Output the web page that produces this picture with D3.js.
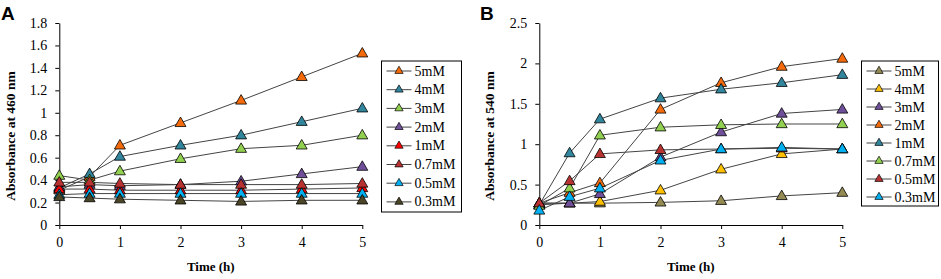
<!DOCTYPE html>
<html>
<head>
<meta charset="utf-8">
<script src="https://cdn.jsdelivr.net/npm/d3@7"></script>
<style>
  body { margin: 0; background: #fff; }
  svg { display: block; }
  .tick text { font-family: "Liberation Serif", "Times New Roman", serif; font-size: 14px; fill: #000; }
  .axis path, .axis line { stroke: #000; stroke-width: 1; }
</style>
</head>
<body>
<div id="chart"></div>
<script>
// shared x values (hours)
var timeH = [0, 0.5, 1, 2, 3, 4, 5];
var xTicks = [0, 1, 2, 3, 4, 5];

// panel A - absorbance at 460 nm
var namesA = ["5mM", "4mM", "3mM", "2mM", "1mM", "0.7mM", "0.5mM", "0.3mM"];
var colorsA = ["#f56a0a", "#31859c", "#92d050", "#6f4f99", "#ff0000", "#b83232", "#00b0f0", "#4a4526"];
var valuesA = [
  [0.31, 0.43, 0.71, 0.91, 1.11, 1.32, 1.53],
  [0.33, 0.455, 0.61, 0.71, 0.80, 0.92, 1.04],
  [0.44, 0.40, 0.48, 0.59, 0.68, 0.71, 0.80],
  [0.34, 0.36, 0.35, 0.36, 0.39, 0.455, 0.52],
  [0.32, 0.32, 0.31, 0.31, 0.31, 0.32, 0.33],
  [0.38, 0.38, 0.37, 0.36, 0.36, 0.36, 0.37],
  [0.27, 0.28, 0.28, 0.28, 0.28, 0.28, 0.28],
  [0.25, 0.24, 0.23, 0.22, 0.21, 0.22, 0.22]
];
var yTicksA = [0, 0.2, 0.4, 0.6, 0.8, 1, 1.2, 1.4, 1.6, 1.8];

// panel B - absorbance at 540 nm
var namesB = ["5mM", "4mM", "3mM", "2mM", "1mM", "0.7mM", "0.5mM", "0.3mM"];
var colorsB = ["#948a54", "#ffc000", "#6f4f99", "#f56a0a", "#31859c", "#92d050", "#b83232", "#00b0f0"];
var valuesB = [
  [0.27, 0.27, 0.27, 0.28, 0.30, 0.36, 0.40],
  [0.27, 0.27, 0.29, 0.43, 0.69, 0.88, 0.94],
  [0.25, 0.27, 0.385, 0.84, 1.15, 1.38, 1.43],
  [0.27, 0.40, 0.52, 1.43, 1.76, 1.96, 2.06],
  [0.25, 0.89, 1.31, 1.57, 1.68, 1.76, 1.86],
  [0.24, 0.455, 1.11, 1.21, 1.24, 1.25, 1.25],
  [0.27, 0.545, 0.88, 0.93, 0.94, 0.95, 0.94],
  [0.18, 0.35, 0.455, 0.80, 0.94, 0.96, 0.94]
];
var yTicksB = [0, 0.5, 1, 1.5, 2, 2.5];

var svg = d3.select("#chart")
  .append("svg")
  .attr("width", 941)
  .attr("height", 279);

var tri = d3.symbol().type(d3.symbolTriangle);

function drawPanel(p) {
  var g = svg.append("g").attr("transform", "translate(" + p.left + ",0)");

  var x = d3.scaleLinear().domain([0, 5]).range([0, p.w]);
  var y = d3.scaleLinear().domain([0, p.ymax]).range([225, 23]);

  g.append("g")
    .attr("class", "axis")
    .call(d3.axisLeft(y).tickValues(p.yTicks).tickSize(4).tickPadding(8).tickSizeOuter(0)
      .tickFormat(function(d) { return String(d); }));

  g.append("g")
    .attr("class", "axis")
    .attr("transform", "translate(0,225)")
    .call(d3.axisBottom(x).tickValues(xTicks).tickSize(4).tickPadding(8).tickSizeOuter(0)
      .tickFormat(function(d) { return String(d); }));

  var line = d3.line()
    .x(function(d, i) { return x(timeH[i]); })
    .y(function(d) { return y(d); });

  p.values.forEach(function(vals, k) {
    g.append("path")
      .datum(vals)
      .attr("fill", "none")
      .attr("stroke", "#444")
      .attr("stroke-width", 1)
      .attr("d", line);
  });

  p.values.forEach(function(vals, k) {
    g.selectAll(".m" + k)
      .data(vals)
      .enter()
      .append("path")
      .attr("d", tri.size(52)())
      .attr("transform", function(d, i) { return "translate(" + x(timeH[i]) + "," + (y(d) + 0.5) + ")"; })
      .attr("fill", p.colors[k])
      .attr("stroke", "#000")
      .attr("stroke-width", 0.8);
  });

  // axis titles
  g.append("text")
    .attr("transform", "translate(" + p.ytitleX + ",136) rotate(-90)")
    .attr("text-anchor", "middle")
    .attr("font-family", "Liberation Serif, serif")
    .attr("font-weight", "bold")
    .attr("font-size", 13.5)
    .text(p.ytitle);

  g.append("text")
    .attr("x", p.w / 2)
    .attr("y", 271)
    .attr("text-anchor", "middle")
    .attr("font-family", "Liberation Serif, serif")
    .attr("font-weight", "bold")
    .attr("font-size", 13)
    .text("Time (h)");

  // panel letter
  svg.append("text")
    .attr("x", p.letterX)
    .attr("y", 20)
    .attr("font-family", "Liberation Sans, Arial, sans-serif")
    .attr("font-weight", "bold")
    .attr("font-size", 19)
    .text(p.letter);

  // legend
  var lg = svg.append("g").attr("transform", "translate(" + p.legX + ",61)");
  lg.append("rect")
    .attr("width", p.legW)
    .attr("height", p.legH)
    .attr("fill", "#fff")
    .attr("stroke", "#000")
    .attr("stroke-width", 1);

  var item = lg.selectAll(".item")
    .data(p.names)
    .enter()
    .append("g")
    .attr("transform", function(d, i) { return "translate(0," + (10 + i * p.legStep) + ")"; });

  item.append("line")
    .attr("x1", 5).attr("x2", 30)
    .attr("stroke", "#444").attr("stroke-width", 1);
  item.append("path")
    .attr("d", tri.size(30)())
    .attr("transform", "translate(17.5,0)")
    .attr("fill", function(d, i) { return p.colors[i]; })
    .attr("stroke", "#000")
    .attr("stroke-width", 0.7);
  item.append("text")
    .attr("x", 33)
    .attr("y", 4.5)
    .attr("font-family", "Liberation Serif, serif")
    .attr("font-size", 14)
    .text(function(d) { return d; });
}

drawPanel({
  left: 59.3, w: 303, ymax: 1.8, yTicks: yTicksA, values: valuesA, colors: colorsA, names: namesA,
  ytitle: "Absorbance at 460 nm", ytitleX: -44, letter: "A", letterX: 1,
  legX: 381.5, legW: 80, legH: 151, legStep: 18.7
});

drawPanel({
  left: 539.3, w: 303, ymax: 2.5, yTicks: yTicksB, values: valuesB, colors: colorsB, names: namesB,
  ytitle: "Absorbance at 540 nm", ytitleX: -45, letter: "B", letterX: 480,
  legX: 861.5, legW: 77, legH: 145, legStep: 18
});
</script>
</body>
</html>
